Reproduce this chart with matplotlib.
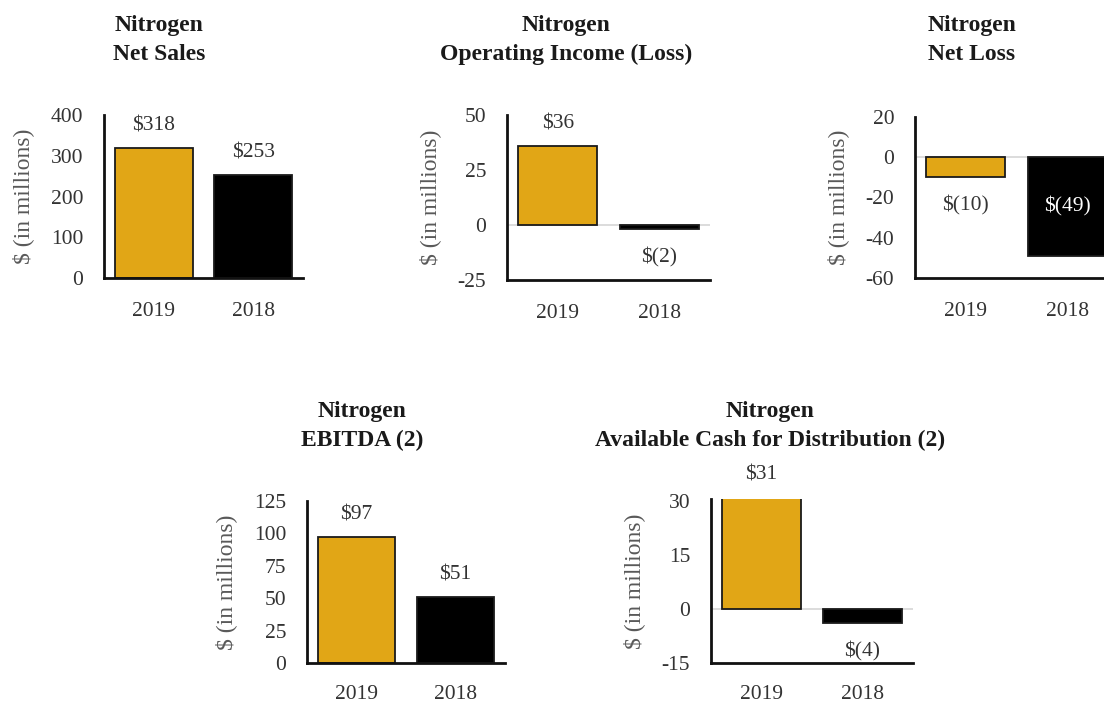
import matplotlib
matplotlib.use("Agg")
import matplotlib.pyplot as plt

plt.rcParams['font.family'] = ['Liberation Serif', 'DejaVu Serif']

years = ["2019", "2018"]

net_sales = [318, 253]
op_income = [36, -2]
net_loss = [-10, -49]
ebitda = [97, 51]
cash_dist = [31, -4]

titles = [
    ("Nitrogen", "Net Sales"),
    ("Nitrogen", "Operating Income (Loss)"),
    ("Nitrogen", "Net Loss"),
    ("Nitrogen", "EBITDA (2)"),
    ("Nitrogen", "Available Cash for Distribution (2)"),
]
yticks_list = [
    [0, 100, 200, 300, 400],
    [-25, 0, 25, 50],
    [-60, -40, -20, 0, 20],
    [0, 25, 50, 75, 100, 125],
    [-15, 0, 15, 30],
]

GOLD = "#E1A616"
BLACK = "#000000"

W, H = 1104, 702
fig = plt.figure(figsize=(W / 100, H / 100), dpi=100)


def px_axes(x0, x1, ytop, ybot):
    return fig.add_axes([x0 / W, 1 - ybot / H, (x1 - x0) / W, (ybot - ytop) / H])


# (x0, x1, ytop, ybot) in pixels, ylim, title centre x, title line y's, xtick pad
layout = [
    ((104, 303, 115, 278), (0, 400), 159, (25, 54), 17.5),
    ((507, 710, 115, 280), (-25, 50), 566, (25, 54), 17.5),
    ((915, 1118, 117, 278), (-60, 20), 972, (25, 54), 17.5),
    ((307, 505, 501, 663), (0, 125), 362, (412, 440), 16),
    ((711, 913, 499, 663), (-15, 30.5), 770, (411, 440), 16),
]
data = [net_sales, op_income, net_loss, ebitda, cash_dist]

for vals, ticks, ttl, (box, ylim, tx, tys, xpad) in zip(data, yticks_list, titles, layout):
    ax = px_axes(*box)
    xs = range(len(vals))
    bars = ax.bar(xs, vals, width=0.78, color=[GOLD, BLACK],
                  edgecolor="#1a1a1a", linewidth=1.3, zorder=2)
    ax.set_xlim(-0.5, 1.5)
    ax.set_ylim(*ylim)
    ax.set_yticks(ticks)
    ax.set_yticklabels([str(t) for t in ticks])
    ax.set_xticks(list(xs))
    ax.set_xticklabels(years)
    ax.tick_params(axis="both", length=0, labelsize=15.5, labelcolor="#333333")
    ax.tick_params(axis="y", pad=15)
    ax.tick_params(axis="x", pad=xpad)
    for s in ("top", "right"):
        ax.spines[s].set_visible(False)
    for s in ("left", "bottom"):
        ax.spines[s].set_linewidth(2.0)
        ax.spines[s].set_color("#111111")
    if ylim[0] < 0:
        ax.axhline(0, color="#d9d9d9", lw=1.3, zorder=1)
    ax.set_ylabel("$ (in millions)", fontsize=17, color="#595959", labelpad=12)
    ax.patch.set_alpha(0)

    for b, v in zip(bars, vals):
        cx = b.get_x() + b.get_width() / 2
        lab = f"${v}" if v >= 0 else f"$({-v})"
        if v >= 0:
            ax.annotate(lab, (cx, v), xytext=(0, 16), textcoords="offset points",
                        ha="center", va="center", fontsize=15.5, color="#333333",
                        annotation_clip=False)
        elif -v > 0.5 * (-ylim[0]):
            ax.text(cx, v / 2, lab, ha="center", va="center", fontsize=15.5, color="white")
        else:
            ax.annotate(lab, (cx, v), xytext=(0, -20), textcoords="offset points",
                        ha="center", va="center", fontsize=15.5, color="#333333",
                        annotation_clip=False)

    for line, ty in zip(ttl, tys):
        fig.text(tx / W, 1 - ty / H, line, ha="center", va="center",
                 fontsize=17, fontweight="bold", color="#1a1a1a")

fig.savefig("out.png", dpi=100)
